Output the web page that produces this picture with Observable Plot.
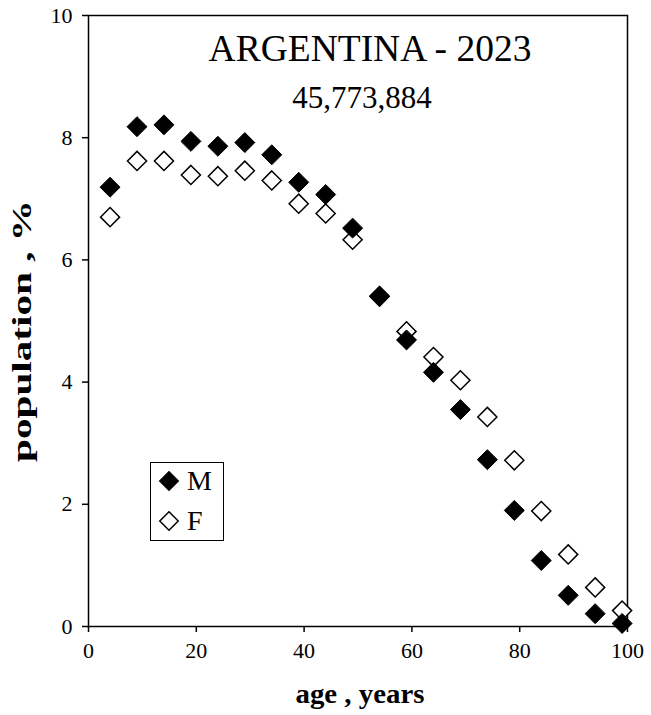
<!DOCTYPE html>
<html>
<head>
<meta charset="utf-8">
<script src="https://cdn.jsdelivr.net/npm/d3@7"></script>
<script src="https://cdn.jsdelivr.net/npm/@observablehq/plot@0.6"></script>
<style>
  html, body { margin: 0; padding: 0; background: #fff; }
  #chart { width: 651px; height: 715px; }
  #chart svg, #chart svg text { font-family: "Liberation Serif", "Times New Roman", serif !important; }
</style>
</head>
<body>
<div id="chart"></div>
<script>
// Age-group midpoints (years) and share of each sex's population (%)
const ages = [4, 9, 14, 19, 24, 29, 34, 39, 44, 49, 54, 59, 64, 69, 74, 79, 84, 89, 94, 99];
const male = [7.19, 8.18, 8.21, 7.94, 7.86, 7.92, 7.72, 7.27, 7.07, 6.52, 5.41, 4.69, 4.16, 3.55, 2.73, 1.90, 1.08, 0.51, 0.21, 0.05];
const female = [6.70, 7.62, 7.62, 7.39, 7.37, 7.46, 7.30, 6.92, 6.76, 6.33, 5.40, 4.83, 4.41, 4.03, 3.43, 2.72, 1.89, 1.18, 0.64, 0.26];
const xTicks = [0, 20, 40, 60, 80, 100];
const yTicks = [0, 2, 4, 6, 8, 10];
const country = "ARGENTINA - 2023";
const total = "45,773,884";
const xTitle = "age , years";
const yTitle = "population , %";
const seriesNames = ["M", "F"];

const rowsM = ages.map((a, i) => ({age: a, pct: male[i]}));
const rowsF = ages.map((a, i) => ({age: a, pct: female[i]}));

const serif = "Liberation Serif, Times New Roman, serif";

const chart = Plot.plot({
  width: 651,
  height: 715,
  marginLeft: 88,
  marginRight: 24,
  marginTop: 15,
  marginBottom: 89,
  style: {fontFamily: serif, fontSize: "22px", color: "black", background: "white", overflow: "visible"},
  x: {domain: [0, 100]},
  y: {domain: [0, 10]},
  marks: [
    Plot.axisX({ticks: xTicks, tickSize: 6, tickPadding: 10, label: null, fontSize: 22, strokeWidth: 1.5}),
    Plot.axisY({ticks: yTicks, tickSize: 6, tickPadding: 10, label: null, fontSize: 22, strokeWidth: 1.5}),
    Plot.frame({stroke: "black", strokeWidth: 1.5}),
    // females first so the male markers sit on top where they overlap
    Plot.dot(rowsF, {x: "age", y: "pct", symbol: "diamond2", r: 8.6, fill: "white", stroke: "black", strokeWidth: 1.5}),
    Plot.dot(rowsM, {x: "age", y: "pct", symbol: "diamond2", r: 9, fill: "black", stroke: "black", strokeWidth: 1}),
    Plot.text([country], {frameAnchor: "top", dx: 12, dy: 45, lineAnchor: "bottom", fontSize: 37.5, fill: "black"}),
    Plot.text([total], {frameAnchor: "top", dx: 4, dy: 92, lineAnchor: "bottom", fontSize: 31, fill: "black"})
  ]
});

const svg = d3.select(chart);

// Axis titles (bold, stretched to the axis-title widths)
svg.append("text")
  .attr("x", 360).attr("y", 703)
  .attr("text-anchor", "middle")
  .attr("font-family", serif).attr("font-size", 27).attr("font-weight", "bold")
  .attr("textLength", 129).attr("lengthAdjust", "spacingAndGlyphs")
  .attr("fill", "black")
  .text(xTitle);
svg.append("text")
  .attr("transform", "translate(31,331) rotate(-90)")
  .attr("text-anchor", "middle")
  .attr("font-family", serif).attr("font-size", 27).attr("font-weight", "bold")
  .attr("textLength", 262).attr("lengthAdjust", "spacingAndGlyphs")
  .attr("fill", "black")
  .text(yTitle);

// Legend box inside the plot area
const lg = svg.append("g").attr("font-family", serif).attr("font-size", 28).attr("text-anchor", "start");
lg.append("rect").attr("x", 150.5).attr("y", 462.5).attr("width", 73).attr("height", 78)
  .attr("fill", "white").attr("stroke", "black").attr("stroke-width", 1);
const diamond = d3.symbol(d3.symbolDiamond2, Math.PI * 8.3 * 8.3);
seriesNames.forEach((name, i) => {
  const cy = 481 + i * 40;
  lg.append("path").attr("d", diamond()).attr("transform", `translate(169,${cy})`)
    .attr("fill", i === 0 ? "black" : "white").attr("stroke", "black").attr("stroke-width", 1.5);
  lg.append("text").attr("x", 187).attr("y", cy + 9).attr("fill", "black").text(name);
});

document.getElementById("chart").appendChild(chart);
</script>
</body>
</html>
